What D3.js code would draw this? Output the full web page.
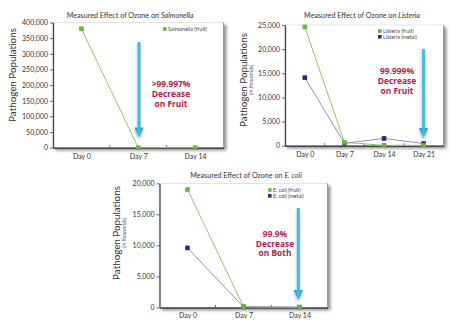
<!DOCTYPE html>
<html>
<head>
<meta charset="utf-8">
<script src="https://cdn.jsdelivr.net/npm/d3@7"></script>
<style>
  html, body { margin: 0; padding: 0; background: #fff; }
  svg { display: block; font-family: Lato, "Open Sans", sans-serif; }
</style>
</head>
<body>
<svg id="chart" width="460" height="326"></svg>
<script>
// ---------------- data ----------------
const salDays = ["Day 0", "Day 7", "Day 14"];
const salFruit = [380000, 0, 0];
const salTicks = [0, 50000, 100000, 150000, 200000, 250000, 300000, 350000, 400000];

const lisDays = ["Day 0", "Day 7", "Day 14", "Day 21"];
const lisFruit = [24600, 700, 80, 80];
const lisMetal = [14100, 500, 1500, 450];
const lisTicks = [0, 5000, 10000, 15000, 20000, 25000];

const ecoDays = ["Day 0", "Day 7", "Day 14"];
const ecoFruit = [19000, 150, 20];
const ecoMetal = [9600, 100, 60];
const ecoTicks = [0, 5000, 10000, 15000, 20000];

const salNote = [">99.997%", "Decrease", "on Fruit"];
const lisNote = ["99.999%", "Decrease", "on Fruit"];
const ecoNote = ["99.9%", "Decrease", "on Both"];

const GREEN = "#6db33f", GREEN_LINE = "#93c56c";
const NAVY = "#252b7e", NAVY_LINE = "#8f90c2";
const ARROW = "#2aa7cd", RED = "#b3204a";

const svg = d3.select("#chart");
const defs = svg.append("defs");
const f = defs.append("filter").attr("id", "shadow").attr("x", "-10%").attr("y", "-10%").attr("width", "130%").attr("height", "130%");
f.append("feDropShadow").attr("dx", 2.5).attr("dy", 2.5).attr("stdDeviation", 1.6).attr("flood-color", "#000").attr("flood-opacity", 0.45);
const fa = defs.append("filter").attr("id", "ashadow").attr("x", "-50%").attr("y", "-20%").attr("width", "200%").attr("height", "150%");
fa.append("feDropShadow").attr("dx", 0).attr("dy", 2).attr("stdDeviation", 1.5).attr("flood-color", "#000").attr("flood-opacity", 0.35);
const ag = defs.append("linearGradient").attr("id", "agrad").attr("x1", 0).attr("x2", 1).attr("y1", 0).attr("y2", 0);
ag.append("stop").attr("offset", 0).attr("stop-color", "#1b98c2");
ag.append("stop").attr("offset", 0.5).attr("stop-color", "#45bfe0");
ag.append("stop").attr("offset", 1).attr("stop-color", "#1b98c2");

function drawChart(cfg) {
  const g = svg.append("g");
  const x = d3.scalePoint().domain(cfg.days).range([cfg.left, cfg.right]).padding(0.5);
  const y = d3.scaleLinear().domain([0, d3.max(cfg.ticks)]).range([cfg.bottom, cfg.top]);

  // plot frame with shadow
  g.append("rect").attr("x", cfg.left).attr("y", cfg.top)
    .attr("width", cfg.right - cfg.left).attr("height", cfg.bottom - cfg.top)
    .attr("fill", "#fff").attr("stroke", "#d6d6d6").attr("stroke-width", 0.6)
    .attr("filter", "url(#shadow)");
  g.append("line").attr("x1", cfg.right).attr("x2", cfg.right).attr("y1", cfg.top).attr("y2", cfg.bottom)
    .attr("stroke", "#8a8a8a").attr("stroke-width", 0.8);

  // y axis
  const ya = g.append("g").attr("transform", `translate(${cfg.left},0)`)
    .call(d3.axisLeft(y).tickValues(cfg.ticks).tickFormat(d3.format(",")).tickSize(3).tickSizeOuter(0).tickPadding(2));
  ya.select(".domain").attr("stroke", "#444").attr("stroke-width", 1.3);
  ya.selectAll(".tick line").attr("stroke", "#444").attr("stroke-width", 0.8);
  ya.selectAll(".tick text").attr("font-size", 7).attr("fill", "#333").attr("font-family", "Lato, sans-serif");

  // x axis
  const xa = g.append("g").attr("transform", `translate(0,${cfg.bottom})`)
    .call(d3.axisBottom(x).tickSize(0).tickPadding(6));
  xa.select(".domain").attr("stroke", "#444").attr("stroke-width", 1.5);
  xa.selectAll(".tick text").attr("font-size", 7).attr("fill", "#333").attr("font-family", "Lato, sans-serif");
  // boundary marks between categories
  const bounds = cfg.days.slice(1).map(d => x(d) - x.step() / 2);
  g.append("g").selectAll("line").data(bounds).join("line")
    .attr("x1", d => d).attr("x2", d => d)
    .attr("y1", cfg.bottom).attr("y2", cfg.bottom - 2.5)
    .attr("stroke", "#444").attr("stroke-width", 0.8);

  // series
  const line = d3.line().x(d => x(d.day)).y(d => y(d.v));
  cfg.series.forEach(s => {
    const pts = cfg.days.map((d, i) => ({ day: d, v: s.values[i] }));
    g.append("path").datum(pts).attr("d", line).attr("fill", "none")
      .attr("stroke", s.lineColor).attr("stroke-width", s.width || 1);
  });
  cfg.series.slice().reverse().forEach(s => {
    const pts = cfg.days.map((d, i) => ({ day: d, v: s.values[i] }));
    g.append("g").selectAll("rect").data(pts).join("rect")
      .attr("x", d => x(d.day) - 2.3).attr("y", d => y(d.v) - 2.3)
      .attr("width", 4.6).attr("height", 4.6).attr("fill", s.color);
  });

  // legend
  cfg.series.forEach((s, i) => {
    g.append("rect").attr("x", cfg.legX).attr("y", cfg.legY + i * 5.8 - 1.8)
      .attr("width", 3.6).attr("height", 3.6).attr("fill", s.color);
    g.append("text").attr("x", cfg.legX + 5).attr("y", cfg.legY + i * 5.8)
      .attr("dy", "0.35em").attr("font-size", 5.3).attr("fill", "#444").text(s.name);
  });

  // title
  const t = g.append("text").attr("x", cfg.titleX).attr("y", cfg.titleY)
    .attr("text-anchor", "middle").attr("dy", "0.35em").attr("font-size", 7.2).attr("fill", "#333");
  t.append("tspan").text("Measured Effect of Ozone on ");
  t.append("tspan").attr("font-style", "italic").text(cfg.organism);

  // y label
  const yl = g.append("g").attr("transform", `translate(${cfg.ylabX},${cfg.ylabY}) rotate(-90)`);
  yl.append("text").attr("text-anchor", "middle").attr("font-size", 9.8).attr("fill", "#333").text("Pathogen Populations");
  if (cfg.thousands) {
    yl.append("text").attr("text-anchor", "middle").attr("y", 6).attr("font-size", 5.2)
      .attr("font-style", "italic").attr("fill", "#555").text("(in thousands)");
  }

  // arrow
  const ax = cfg.arrowX, a0 = cfg.arrowTop, a1 = cfg.arrowTip;
  const sw = 1.4, hw = 4.6, hh = 10;
  g.append("path")
    .attr("d", `M${ax - sw},${a0} L${ax + sw},${a0} L${ax + sw},${a1 - hh} L${ax + hw},${a1 - hh} L${ax},${a1} L${ax - hw},${a1 - hh} L${ax - sw},${a1 - hh} Z`)
    .attr("fill", "url(#agrad)").attr("filter", "url(#ashadow)");

  // annotation
  cfg.note.forEach((n, i) => {
    g.append("text").attr("x", cfg.noteX).attr("y", cfg.noteY + i * cfg.noteGap)
      .attr("text-anchor", "middle").attr("dy", "0.35em")
      .attr("font-family", "'Open Sans', sans-serif")
      .attr("font-size", 8.4).attr("font-weight", "bold").attr("fill", RED).text(n);
  });
}

drawChart({
  days: salDays, ticks: salTicks, organism: "Salmonella",
  left: 53, right: 223.5, top: 22.5, bottom: 147.7,
  series: [{ name: "Salmonella (fruit)", values: salFruit, color: GREEN, lineColor: GREEN_LINE }],
  legX: 163, legY: 29, titleX: 130, titleY: 15,
  ylabX: 16, ylabY: 75, thousands: false,
  arrowX: 139, arrowTop: 42, arrowTip: 137.5,
  note: salNote, noteX: 171, noteY: 84.5, noteGap: 9.6
});

drawChart({
  days: lisDays, ticks: lisTicks, organism: "Listeria",
  left: 285, right: 443.5, top: 25, bottom: 145.7,
  series: [
    { name: "Listeria (fruit)", values: lisFruit, color: GREEN, lineColor: GREEN_LINE },
    { name: "Listeria (metal)", values: lisMetal, color: NAVY, lineColor: NAVY_LINE }
  ],
  legX: 378, legY: 31, titleX: 362, titleY: 15.5,
  ylabX: 247, ylabY: 80, thousands: true,
  arrowX: 423.5, arrowTop: 49, arrowTip: 138,
  note: lisNote, noteX: 397, noteY: 71.5, noteGap: 9.6
});

drawChart({
  days: ecoDays, ticks: ecoTicks, organism: "E. coli",
  left: 159.5, right: 327.5, top: 183.3, bottom: 307.5,
  series: [
    { name: "E. coli (fruit)", values: ecoFruit, color: GREEN, lineColor: GREEN_LINE },
    { name: "E. coli (metal)", values: ecoMetal, color: NAVY, lineColor: NAVY_LINE }
  ],
  legX: 268, legY: 190, titleX: 246, titleY: 175.7,
  ylabX: 120, ylabY: 233, thousands: true,
  arrowX: 298.3, arrowTop: 208, arrowTip: 300,
  note: ecoNote, noteX: 275, noteY: 234, noteGap: 9.6
});
</script>
</body>
</html>
